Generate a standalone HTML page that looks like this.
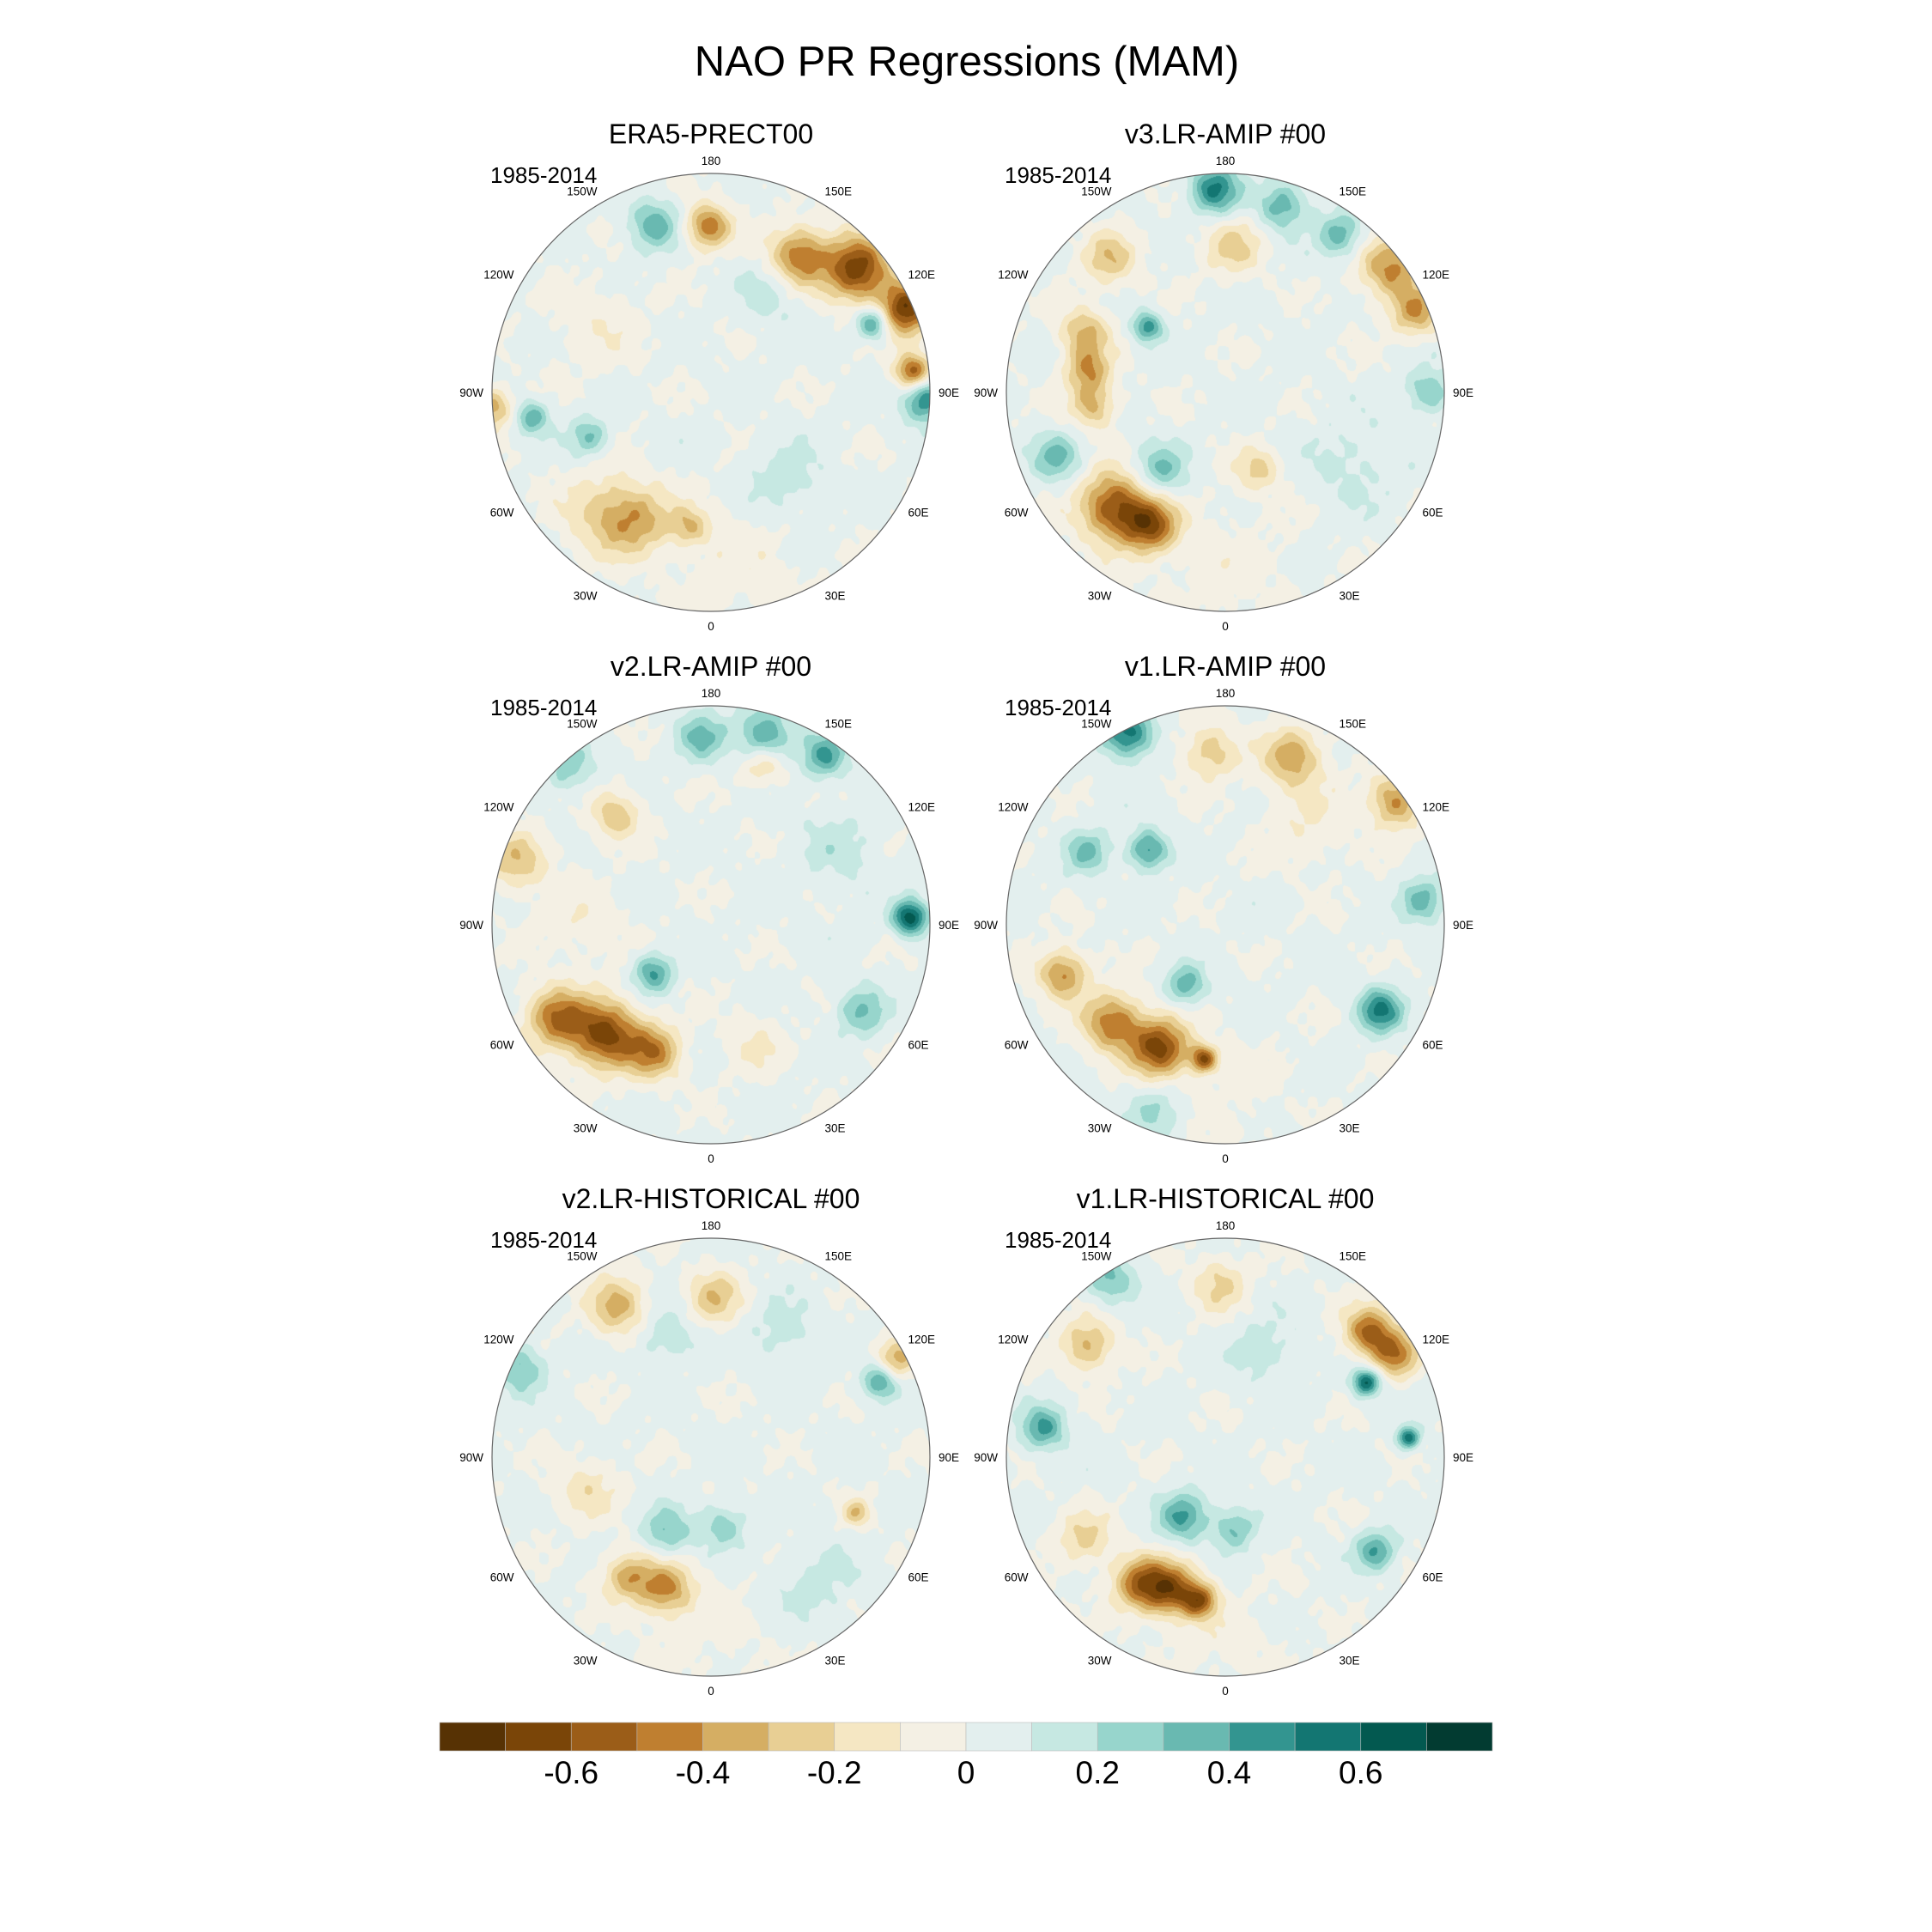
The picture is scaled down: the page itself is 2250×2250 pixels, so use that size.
<!DOCTYPE html>
<html><head><meta charset="utf-8">
<style>
html,body{margin:0;padding:0;background:#fff;}
#root{position:relative;width:2250px;height:2250px;background:#fff;font-family:"Liberation Sans",sans-serif;}
canvas{position:absolute;}
svg{position:absolute;left:0;top:0;}
</style></head>
<body>
<div id="root">
<svg id="ov" width="2250" height="2250">
<text x="1126" y="88" font-size="49" text-anchor="middle" font-family="Liberation Sans, sans-serif">NAO PR Regressions (MAM)</text>
</svg>
</div>
<script>
// colour scale
const levels = [-0.7,-0.6,-0.5,-0.4,-0.3,-0.2,-0.1,0,0.1,0.2,0.3,0.4,0.5,0.6,0.7];
const colors = ["#573204","#7a4508","#9b5d18","#bf7f30","#d5ae63","#e8cf94","#f5e7c3","#f4f0e4","#e3efee","#c6e8e2","#97d5cc","#69b9b1","#339590","#137672","#035950","#023b31"];
const cbLabels = ["-0.6","-0.4","-0.2","0","0.2","0.4","0.6"];
const cbLabelLevels = [-0.6,-0.4,-0.2,0,0.2,0.4,0.6];

const panelTitles = ["ERA5-PRECT00","v3.LR-AMIP  #00","v2.LR-AMIP  #00","v1.LR-AMIP  #00","v2.LR-HISTORICAL  #00","v1.LR-HISTORICAL  #00"];
const panelYears = ["1985-2014","1985-2014","1985-2014","1985-2014","1985-2014","1985-2014"];
const lonTicks = [0,30,60,90,120,150,180,210,240,270,300,330];
const lonTickLabels = ["0","30E","60E","90E","120E","150E","180","150W","120W","90W","60W","30W"];

// anomaly blobs per panel: [lon, lat, amplitude, size(px)]
const blobsERA5 = [[147,35,-0.5,24],[130,27,-0.7,26],[113,22,-0.7,22],[-179,34,-0.5,18],[96,24,-0.6,14],[113,31,0.5,14],[88,21,0.5,18],[-161,31,0.35,20],[-40,36,-0.3,34],[-28,40,-0.25,26],[-86,20,-0.4,16],[-82,30,0.35,14],[-70,45,0.3,16],[-9,43,-0.3,16],[40,50,0.15,30],[150,50,0.15,24],[-120,45,-0.1,36],[10,30,-0.08,50]];
const blobsV3 = [[-44,36,-0.62,28],[-29,38,-0.55,22],[-99,42,-0.4,18],[-113,38,-0.35,20],[-84,44,-0.35,18],[127,23,-0.45,24],[113,23,-0.4,20],[-177,24,0.5,20],[163,26,0.35,20],[144,26,0.35,18],[-130,54,0.45,12],[-40,54,0.3,22],[-69,30,0.3,20],[-139,31,-0.3,22],[177,40,-0.25,24],[23,60,-0.25,18],[90,24,0.3,18],[60,40,0.12,36],[0,30,-0.06,60]];
const blobsV2A = [[-44,38,-0.65,28],[-59,30,-0.5,24],[-24,42,-0.45,22],[164,26,0.45,22],[-177,28,0.3,20],[146,24,0.4,18],[162,33,-0.3,18],[92,25,0.65,14],[-108,24,-0.3,24],[-139,40,-0.3,20],[-50,63,0.4,16],[60,32,0.3,20],[-138,22,0.25,20],[20,45,-0.12,26],[120,40,0.12,34],[-90,45,-0.1,34]];
const blobsV1A = [[-28,42,-0.65,24],[-49,39,-0.5,24],[-9,43,-0.6,11],[-73,33,-0.45,20],[158,30,-0.4,24],[126,22,-0.45,22],[-175,32,-0.3,22],[-153,21,0.55,20],[-134,52,0.45,16],[61,31,0.5,18],[-33,64,0.35,16],[97,25,0.35,18],[-118,37,0.3,18],[-20,25,0.2,24],[140,45,-0.12,34],[0,30,-0.05,50]];
const blobsV2H = [[-19,42,-0.45,22],[-35,40,-0.35,20],[-148,31,-0.35,24],[179,36,-0.3,22],[-30,59,0.3,20],[10,65,0.25,18],[114,29,0.4,14],[118,22,-0.35,16],[69,37,-0.3,11],[-115,22,0.3,20],[-75,45,-0.18,26],[-160,45,0.2,22],[150,40,0.15,26],[40,35,0.12,34],[0,30,-0.05,50]];
const blobsV1H = [[-22,41,-0.55,22],[-34,38,-0.5,22],[-10,40,-0.5,14],[131,27,-0.55,20],[121,25,-0.45,18],[118,36,0.6,11],[96,29,0.55,9],[-35,64,0.4,20],[7,64,0.3,18],[-99,29,0.4,18],[-129,31,-0.35,22],[-178,32,-0.25,22],[58,31,0.4,16],[-147,22,0.3,20],[-60,35,-0.25,22],[160,50,0.15,26],[0,28,-0.06,50]];
const panelBlobs = [blobsERA5,blobsV3,blobsV2A,blobsV1A,blobsV2H,blobsV1H];

const panelCX = [828,1427,828,1427,828,1427];
const panelCY = [457,457,1077,1077,1697,1697];
const R = 255;
const minLat = 20;
const t0 = Math.tan((90-minLat)/2*Math.PI/180);
function rhoOf(lat){ return R*Math.tan((90-lat)/2*Math.PI/180)/t0; }
function proj(lon,lat){ const r=rhoOf(lat), a=lon*Math.PI/180; return [r*Math.sin(a), r*Math.cos(a)]; }
function colorOf(v){ let i=0; while(i<levels.length && v>=levels[i]) i++; return colors[i]; }
function hexRgb(h){ return [parseInt(h.slice(1,3),16),parseInt(h.slice(3,5),16),parseInt(h.slice(5,7),16)]; }

const root=document.getElementById('root');
const ov=document.getElementById('ov');
const NS="http://www.w3.org/2000/svg";
function svgEl(tag,attrs,parent){ const e=document.createElementNS(NS,tag); for(const k in attrs) e.setAttribute(k,attrs[k]); (parent||ov).appendChild(e); return e; }

for(let p=0;p<6;p++){
  const cx=panelCX[p], cy=panelCY[p];
  const cv=document.createElement('canvas');
  cv.width=2*R; cv.height=2*R;
  cv.style.left=(cx-R)+'px'; cv.style.top=(cy-R)+'px';
  
  
  root.insertBefore(cv, ov);
  const ctx=cv.getContext('2d');
  const img=ctx.createImageData(2*R,2*R);
  const bl=panelBlobs[p].map(b=>{const xy=proj(b[0],b[1]); return [xy[0],xy[1],b[2],b[3]];});
  for(let y=0;y<2*R;y++){
    for(let x=0;x<2*R;x++){
      const dx=x-R+0.5, dy=y-R+0.5;
      if(dx*dx+dy*dy>R*R) continue;
      let v=0.02;
      for(const b of bl){ const ex=dx-b[0], ey=dy-b[1]; v+=b[2]*Math.exp(-(ex*ex+ey*ey)/(2*b[3]*b[3])); }
      v+=0.045*Math.sin(dx*0.043+p)*Math.cos(dy*0.051-p*0.7)+0.025*Math.sin(dx*0.13+p*1.3)*Math.cos(dy*0.117-p)+0.02*Math.sin(dx*0.23-p)*Math.sin(dy*0.19+p);
      const c=hexRgb(colorOf(v));
      const i=(y*2*R+x)*4;
      img.data[i]=c[0]; img.data[i+1]=c[1]; img.data[i+2]=c[2]; img.data[i+3]=255;
    }
  }
  ctx.putImageData(img,0,0);
  const g=svgEl('g',{});
  
  
  const ring=svgEl('circle',{cx:cx,cy:cy,r:R,fill:'none',stroke:'#666','stroke-width':1.2},g);
  
  
  const t=svgEl('text',{x:cx,y:cy-457+167,'font-size':32,'text-anchor':'middle','font-family':'Liberation Sans, sans-serif'},g);
  t.textContent=panelTitles[p];
  
  
  const yr=svgEl('text',{x:cx-257,y:cy-457+213,'font-size':26,'font-family':'Liberation Sans, sans-serif'},g);
  yr.textContent=panelYears[p];
  
  
  for(let k=0;k<lonTicks.length;k++){
    const a=lonTicks[k]*Math.PI/180, s=Math.sin(a), c=Math.cos(a);
    const rr=R+10;
    const anchor = s>0.3?'start':(s<-0.3?'end':'middle');
    let ty = cy+rr*c;
    if(c>0.3) ty+=12; else if(c>-0.3) ty+=5;
    const lt=svgEl('text',{x:cx+rr*s,y:ty,'font-size':13.5,'text-anchor':anchor,'font-family':'Liberation Sans, sans-serif'},g);
    lt.textContent=lonTickLabels[k];
    
    
  }
}

// colour bar
const cbX0=512, cbX1=1738, cbY=2006, cbH=33;
const cw=(cbX1-cbX0)/colors.length;
const cbg=svgEl('g',{});


function cbPos(v){ return cbX0+cw*(1+(v-levels[0])/0.1); }
for(let i=0;i<colors.length;i++){
  const r=svgEl('rect',{x:cbX0+i*cw,y:cbY,width:cw,height:cbH,fill:colors[i],stroke:'#bbb','stroke-width':0.6},cbg);
  
  
}
for(let i=0;i<cbLabels.length;i++){
  const t=svgEl('text',{x:cbPos(cbLabelLevels[i]),y:2077,'font-size':37,'text-anchor':'middle','font-family':'Liberation Sans, sans-serif'},cbg);
  t.textContent=cbLabels[i];
  
  
}
</script>
</body></html>
